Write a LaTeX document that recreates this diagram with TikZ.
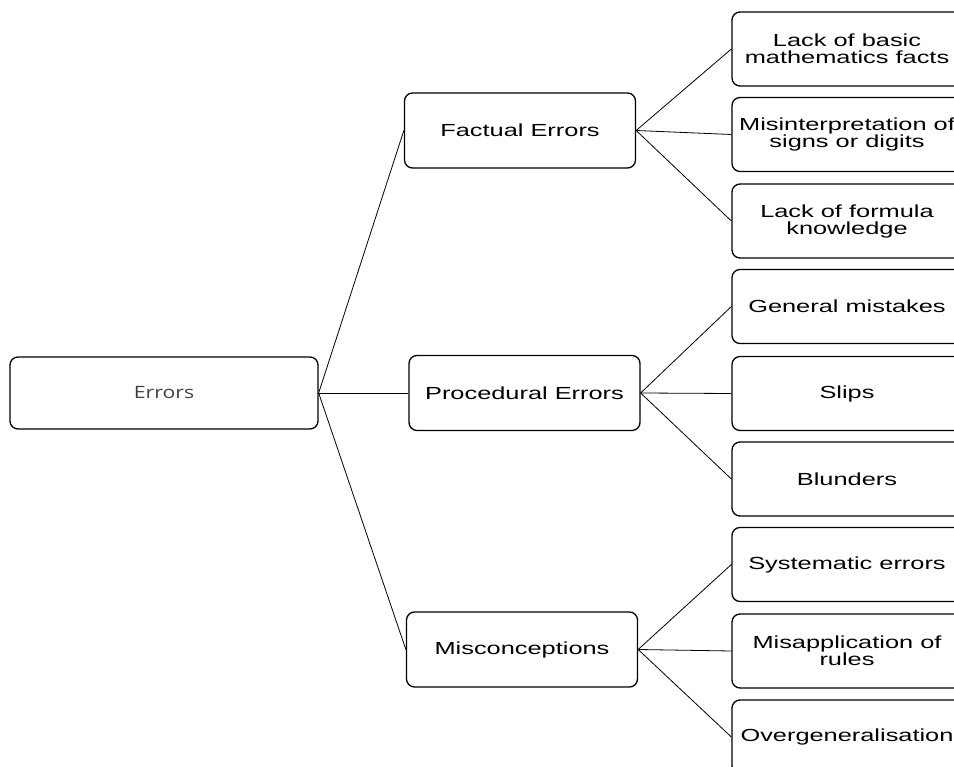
\documentclass[tikz,border=0pt]{standalone}
\usepackage{fontspec}
\setmainfont[FakeStretch=1.45]{Liberation Sans}
\newfontfamily\errfont[FakeStretch=1.25]{Open Sans}
\definecolor{errgray}{HTML}{404040}
\begin{document}
\begin{tikzpicture}[x=1pt,y=-1pt,
  box/.style={draw, line width=1.3pt, rounded corners=8pt, align=center, inner sep=0pt,
    font=\fontsize{17.5}{17}\selectfont},
  midbox/.style={box, minimum width=231pt, minimum height=75pt},
  leafbox/.style={box, minimum width=230pt, minimum height=74pt},
  link/.style={line width=0.8pt}]
\useasboundingbox (0,0) rectangle (954,767);
\clip (0,0) rectangle (954,767);
\node[box, minimum width=308pt, minimum height=72pt, font=\errfont\fontsize{17}{17}\selectfont, text=errgray] (err) at (164,393) {Errors};
\node[midbox] (fact) at (520,130.5) {Factual Errors};
\node[midbox] (proc) at (524.5,393) {Procedural Errors};
\node[midbox] (misc) at (522,649.5) {Misconceptions};
\node[leafbox] (f1) at (847,49) {Lack of basic\\mathematics facts};
\node[leafbox] (f2) at (847,134.5) {Misinterpretation of\\signs or digits};
\node[leafbox] (f3) at (847,221) {Lack of formula\\knowledge};
\node[leafbox] (p1) at (847,306.5) {General mistakes};
\node[leafbox] (p2) at (847,393.5) {Slips};
\node[leafbox] (p3) at (847,479) {Blunders};
\node[leafbox] (m1) at (847,564.5) {Systematic errors};
\node[leafbox] (m2) at (847,651) {Misapplication of\\rules};
\node[leafbox] (m3) at (847,737) {Overgeneralisation};
\foreach \c in {fact,proc,misc} \draw[link] (err.east) -- (\c.west);
\foreach \c in {f1,f2,f3} \draw[link] (fact.east) -- (\c.west);
\foreach \c in {p1,p2,p3} \draw[link] (proc.east) -- (\c.west);
\foreach \c in {m1,m2,m3} \draw[link] (misc.east) -- (\c.west);
\end{tikzpicture}
\end{document}
